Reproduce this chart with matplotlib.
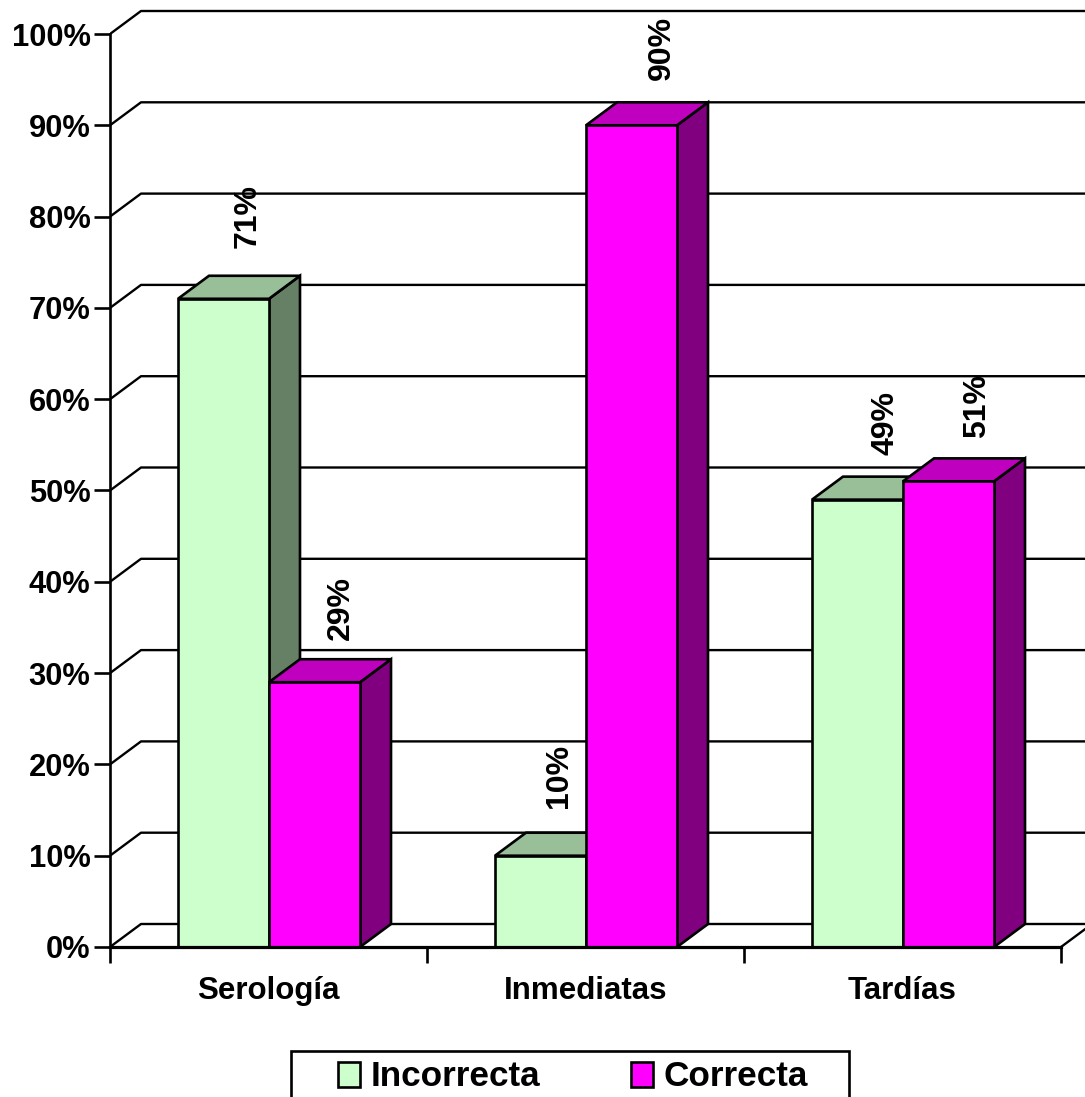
import matplotlib
matplotlib.use('Agg')
import matplotlib.pyplot as plt
from matplotlib.patches import Polygon, Rectangle

categories = ['Serología', 'Inmediatas', 'Tardías']
incorrecta = [71, 10, 49]
correcta = [29, 90, 51]
pct_ticks = list(range(0, 101, 10))

W, H = 1085, 1097
x0, y0 = 110, 947        # pixel position of the chart origin
px_cat = 317.0           # pixels per category
px_pct = 9.13            # pixels per percent
dx = 31 / px_cat         # depth of the 3d effect
dy = 23 / px_pct
gap = 68 / px_cat
bar_w = 91 / px_cat
lw = 1.9

# hand placement of the value labels, in pixels (incorrecta, correcta per category)
label_dx = [[70, 72], [64, 76], [74, 74]]
label_dy = [[51, 42], [48, 45], [45, 43]]

plt.rcParams['font.family'] = ['Liberation Sans', 'DejaVu Sans']
plt.rcParams['font.weight'] = 'bold'

fig = plt.figure(figsize=(W / 100, H / 100), dpi=100)
ax = fig.add_axes([x0 / W, (H - y0) / H, (W - x0) / W, y0 / H])
ax.set_xlim(0, (W - x0) / px_cat)
ax.set_ylim(0, y0 / px_pct)
ax.patch.set_visible(False)

# walls: gridlines run along the back, with a diagonal back to the axis
for p in pct_ticks:
    ax.plot([0, dx, ax.get_xlim()[1]], [p, p + dy, p + dy], color='k', lw=lw - 0.2, zorder=1)
ax.plot([3, 3 + dx], [0, dy], color='k', lw=lw - 0.2, zorder=1)


def bar3d(x, v, front, top, side, z):
    ax.add_patch(Polygon([(x + bar_w, 0), (x + bar_w + dx, dy), (x + bar_w + dx, v + dy), (x + bar_w, v)],
                         fc=side, ec='k', lw=lw, joinstyle='miter', zorder=z))
    ax.add_patch(Polygon([(x, v), (x + dx, v + dy), (x + bar_w + dx, v + dy), (x + bar_w, v)],
                         fc=top, ec='k', lw=lw, joinstyle='miter', zorder=z))
    ax.add_patch(Rectangle((x, 0), bar_w, v, fc=front, ec='k', lw=lw, joinstyle='miter', zorder=z))


for i in range(3):
    left = i + gap
    bar3d(left, incorrecta[i], '#CCFFCC', '#99BF99', '#668066', 2 + i)
    bar3d(left + bar_w, correcta[i], '#FF00FF', '#BF00BF', '#800080', 2.5 + i)
    for j, (x, v) in enumerate(((left, incorrecta[i]), (left + bar_w, correcta[i]))):
        ax.text(x + label_dx[i][j] / px_cat, v + label_dy[i][j] / px_pct, '%d%%' % v, rotation=90,
                ha='center', va='bottom', fontsize=23, zorder=6)

# axes
for s in ('top', 'right'):
    ax.spines[s].set_visible(False)
ax.spines['left'].set_bounds(0, 100)
ax.spines['bottom'].set_bounds(0, 3)
ax.spines['left'].set_linewidth(lw)
ax.spines['bottom'].set_linewidth(lw + 0.4)
ax.spines['left'].set_zorder(8)
ax.spines['bottom'].set_zorder(8)
ax.set_yticks(pct_ticks)
ax.set_yticklabels(['%d%%' % p for p in pct_ticks], fontsize=22.2)
ax.tick_params(axis='y', length=11.5, width=lw, pad=2.5)
ax.set_xticks([0, 1, 2, 3])
ax.set_xticklabels([])
ax.tick_params(axis='x', length=11.5, width=lw)
ax.set_xticks([0.5, 1.5, 2.5], minor=True)
ax.set_xticklabels(categories, minor=True, fontsize=22.5)
ax.tick_params(axis='x', which='minor', length=0, pad=21)

# legend, its box runs off the bottom edge
fig.add_artist(Rectangle((291 / W, -0.02), (849 - 291) / W, (H - 1051) / H + 0.02, fc='white', ec='k', lw=lw,
                         transform=fig.transFigure))
handles = [Rectangle((0, 0), 1, 1, fc='#CCFFCC', ec='k', lw=lw), Rectangle((0, 0), 1, 1, fc='#FF00FF', ec='k', lw=lw)]
fig.legend(handles, ['Incorrecta', 'Correcta'], ncol=2, frameon=False, fontsize=25.3, loc='center left',
           bbox_to_anchor=(338 / W, (H - 1077) / H), borderpad=0, borderaxespad=0, handlelength=0.64,
           handleheight=0.72, handletextpad=0.29, columnspacing=2.57)

fig.savefig('out.png', dpi=100)
